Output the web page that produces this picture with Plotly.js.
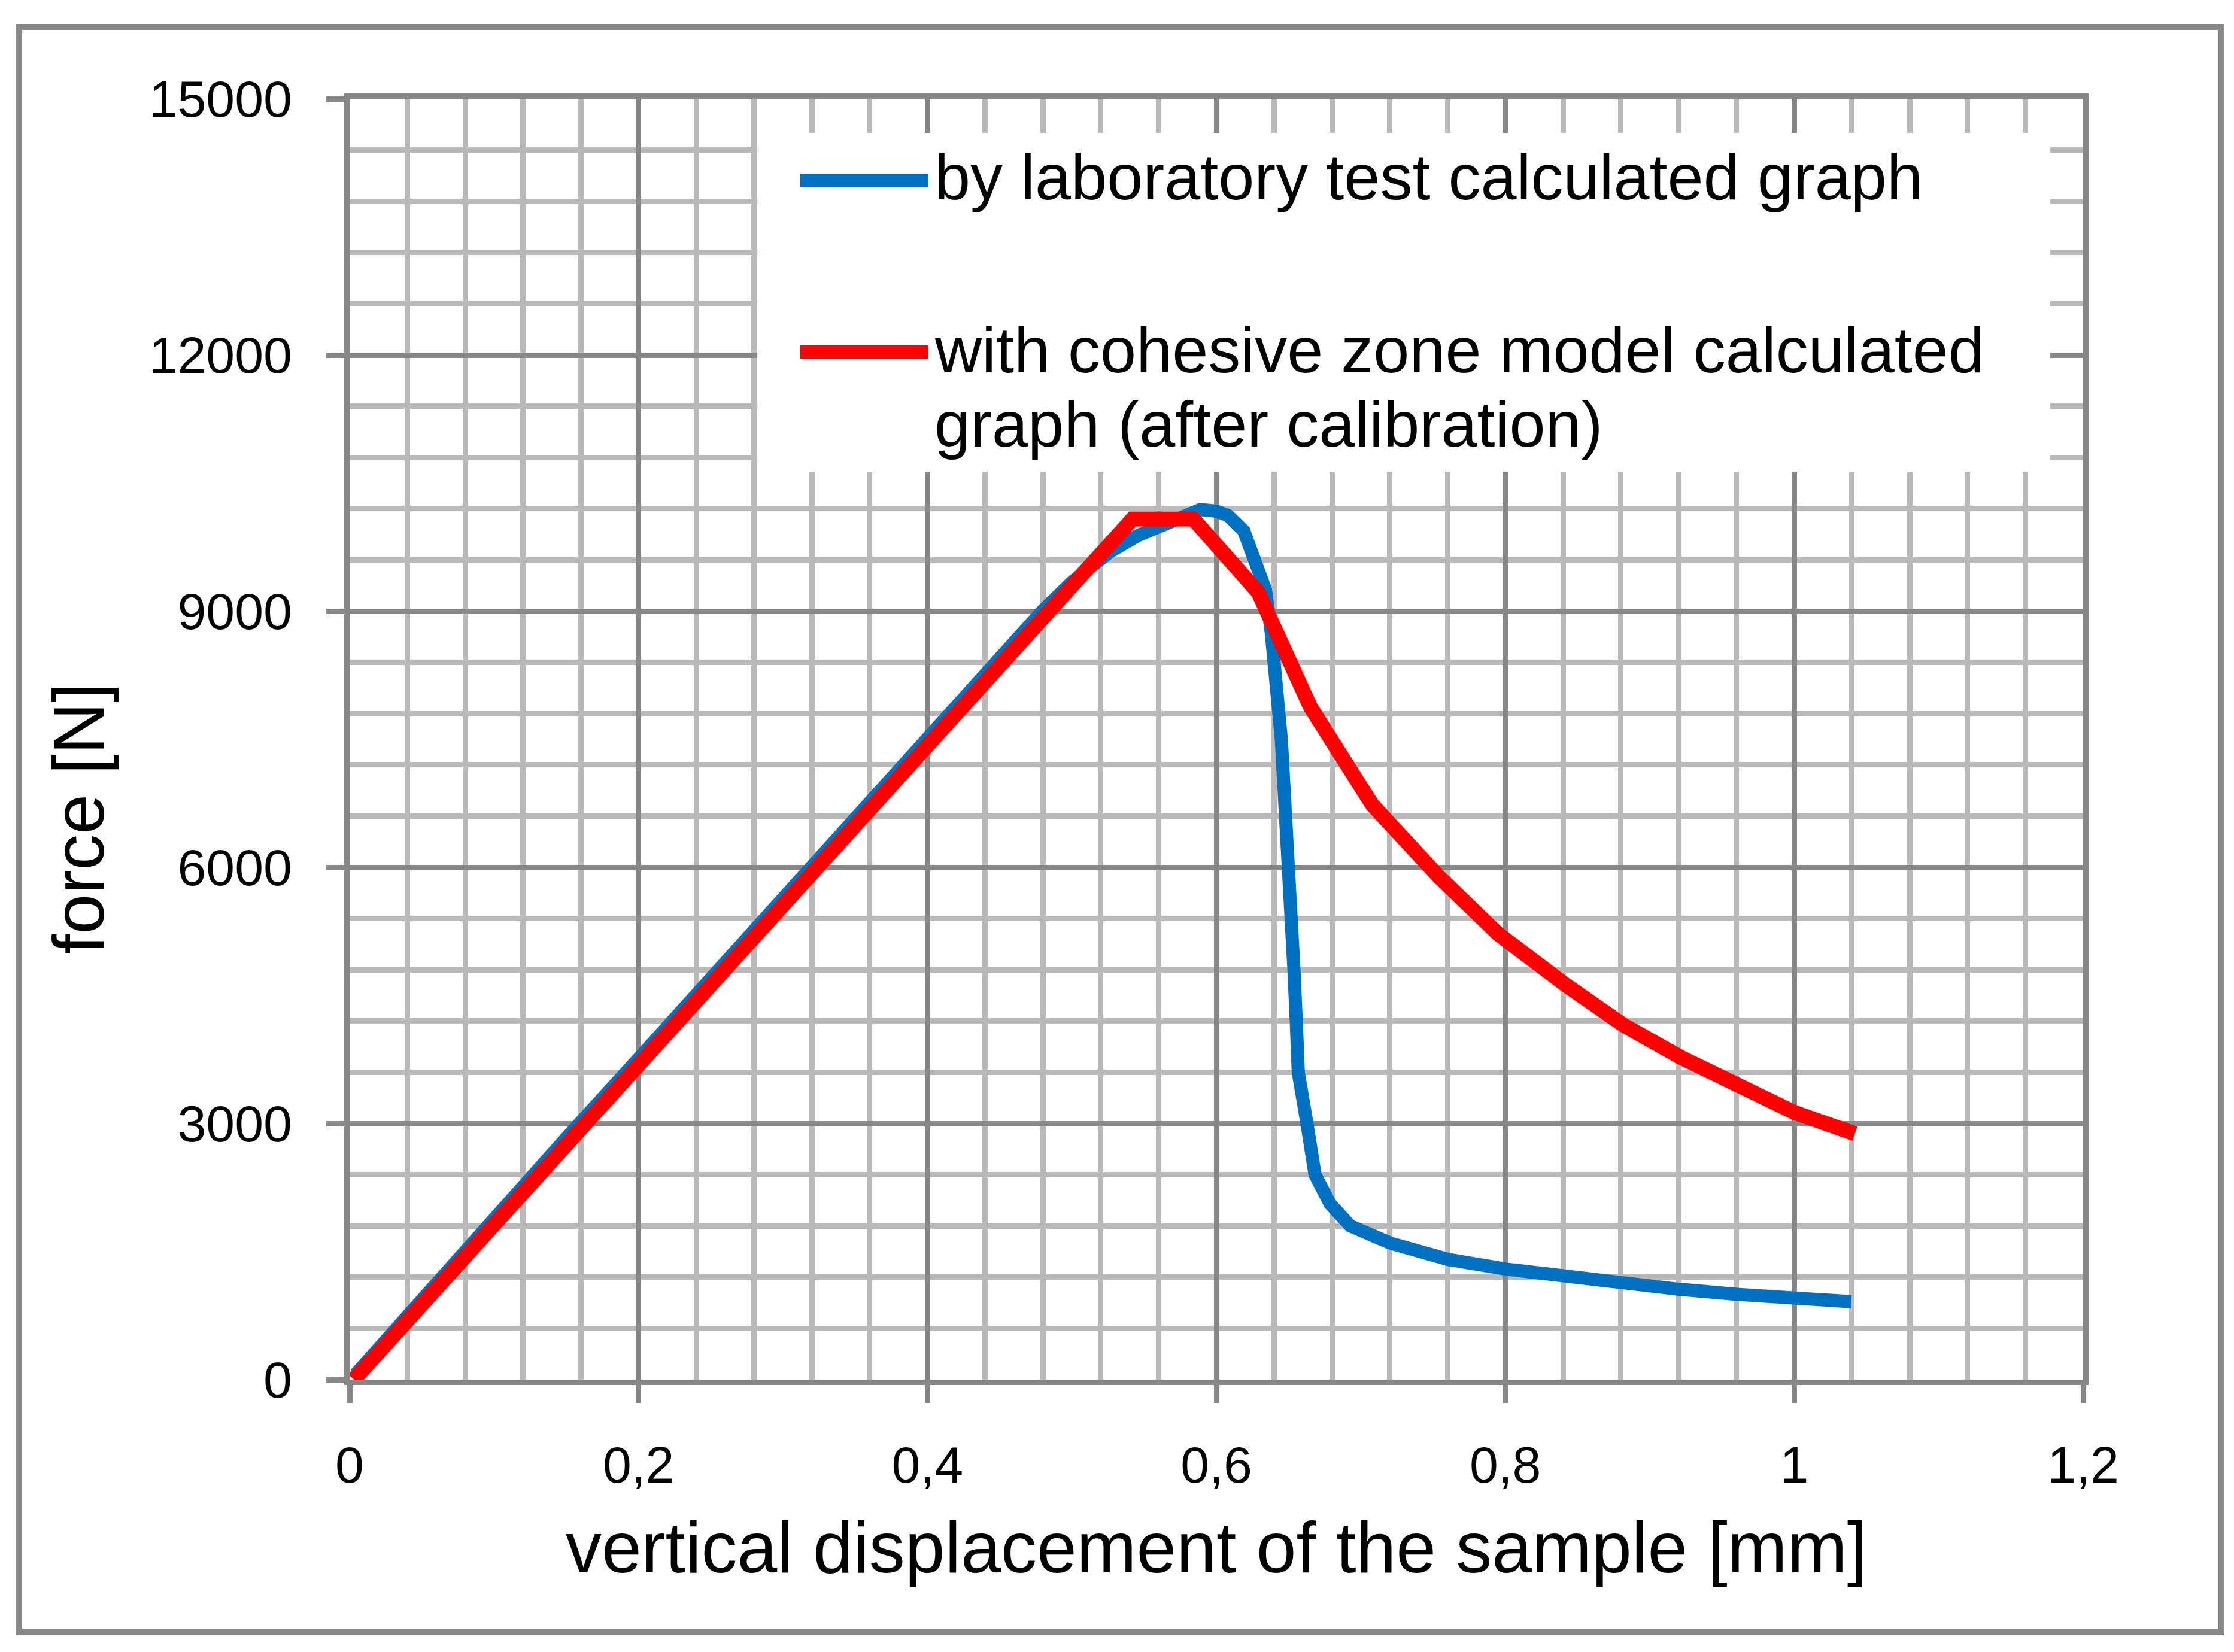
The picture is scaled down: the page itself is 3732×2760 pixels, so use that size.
<!DOCTYPE html>
<html>
<head>
<meta charset="utf-8">
<script src="https://cdn.plot.ly/plotly-3.0.1.min.js"></script>
<style>
  html, body { margin: 0; padding: 0; background: #fff; }
  #plot { width: 3732px; height: 2760px; }
</style>
</head>
<body>
<div id="plot"></div>
<script>
// laboratory test (measured) curve
const labDisp = [0.004, 0.05, 0.1, 0.15, 0.2, 0.25, 0.3, 0.35, 0.4, 0.44, 0.462, 0.48, 0.5, 0.526,
  0.545, 0.562, 0.575, 0.589, 0.6, 0.608, 0.619, 0.627, 0.634, 0.638, 0.641, 0.643, 0.645, 0.647,
  0.6506, 0.6516, 0.6537, 0.6553, 0.6567, 0.6627, 0.6683, 0.6787, 0.6927, 0.721, 0.7605, 0.8,
  0.8395, 0.8795, 0.9205, 0.9605, 1.0, 1.0395];
const labForce = [60, 950, 1890, 2830, 3760, 4700, 5640, 6580, 7520, 8270, 8680, 9010, 9340, 9690,
  9880, 9995, 10100, 10190, 10170, 10120, 9940, 9600, 9250, 8750, 8280, 7950, 7490, 6870,
  6000, 5400, 4800, 4200, 3600, 3000, 2400, 2060, 1800, 1595, 1408, 1296,
  1210, 1128, 1058, 999, 953, 913];

// cohesive zone model curve
const czmDisp = [0.003, 0.542, 0.584, 0.629, 0.665, 0.708, 0.754, 0.795, 0.842, 0.882, 0.922, 0.961, 1.0, 1.042];
const czmForce = [0, 10080, 10080, 9220, 7880, 6730, 5890, 5220, 4620, 4150, 3770, 3440, 3130, 2880];

const seriesNames = ["by laboratory test calculated graph", "with cohesive zone model calculated graph (after calibration)"];
const legendLines = ["by laboratory test calculated graph", "with cohesive zone model calculated", "graph (after calibration)"];

const xTickVals = [0, 0.2, 0.4, 0.6, 0.8, 1, 1.2];
const xTickText = ["0", "0,2", "0,4", "0,6", "0,8", "1", "1,2"];
const yTickVals = [0, 3000, 6000, 9000, 12000, 15000];
const yTickText = ["0", "3000", "6000", "9000", "12000", "15000"];

const BLUE = "#0070C0";
const RED = "#FF0000";
const MAJOR = "#878787";
const MINOR = "#b9b9b9";
const FONT = "Liberation Sans, Arial, sans-serif";

const traces = [
  {
    x: labDisp, y: labForce, name: seriesNames[0],
    type: "scatter", mode: "lines",
    line: { color: BLUE, width: 22 },
  },
  {
    x: czmDisp, y: czmForce, name: seriesNames[1],
    type: "scatter", mode: "lines",
    line: { color: RED, width: 25 },
  },
];

const axisCommon = {
  showline: true, mirror: true, linecolor: MAJOR, linewidth: 9,
  showgrid: true, gridcolor: MAJOR, gridwidth: 9,
  zeroline: false,
  ticks: "outside", ticklen: 30, tickwidth: 9, tickcolor: MAJOR,
  tickfont: { family: FONT, size: 86, color: "#000" },
  tickmode: "array",
};

const layout = {
  width: 3732, height: 2760,
  margin: { l: 584, r: 252, t: 165, b: 455 },
  paper_bgcolor: "#fff", plot_bgcolor: "#fff",
  showlegend: false,
  xaxis: {
    ...axisCommon,
    range: [0, 1.2],
    tickvals: xTickVals, ticktext: xTickText,
    ticklabelstandoff: 30,
    minor: { tickmode: "linear", tick0: 0, dtick: 0.04, showgrid: true, gridcolor: MINOR, gridwidth: 9, ticks: "" },
    title: {
      text: "vertical displacement of the sample [mm]",
      font: { family: FONT, size: 120, color: "#000" },
      standoff: 52,
    },
  },
  yaxis: {
    ...axisCommon,
    range: [0, 15000],
    tickvals: yTickVals, ticktext: yTickText,
    ticklabelstandoff: 40,
    minor: { tickmode: "linear", tick0: 0, dtick: 600, showgrid: true, gridcolor: MINOR, gridwidth: 9, ticks: "" },
  },
  shapes: [
    // outer frame
    { type: "rect", xref: "paper", yref: "paper", x0: -0.1906, x1: 1.0794, y0: -0.1972, y1: 1.0561,
      line: { color: MAJOR, width: 10 }, layer: "below" },
    // legend background
    { type: "rect", xref: "paper", yref: "paper", x0: 0.2352, x1: 0.981, y0: 0.7089, y1: 0.9734,
      fillcolor: "#ffffff", line: { width: 0 }, layer: "above" },
    // legend samples
    { type: "line", xref: "paper", yref: "paper", x0: 0.26, x1: 0.3339, y0: 0.9364, y1: 0.9364,
      line: { color: BLUE, width: 22 }, layer: "above" },
    { type: "line", xref: "paper", yref: "paper", x0: 0.26, x1: 0.3339, y0: 0.8023, y1: 0.8023,
      line: { color: RED, width: 22 }, layer: "above" },
  ],
  annotations: [
    { text: legendLines[0], xref: "paper", yref: "paper", x: 0.3367, y: 0.9388, xanchor: "left", yanchor: "middle",
      showarrow: false, font: { family: FONT, size: 108, color: "#000" } },
    { text: legendLines[1], xref: "paper", yref: "paper", x: 0.3367, y: 0.8042, xanchor: "left", yanchor: "middle",
      showarrow: false, font: { family: FONT, size: 108, color: "#000" } },
    { text: legendLines[2], xref: "paper", yref: "paper", x: 0.3367, y: 0.7458, xanchor: "left", yanchor: "middle",
      showarrow: false, font: { family: FONT, size: 108, color: "#000" } },
    { text: "force [N]", xref: "paper", yref: "paper", x: -0.1564, y: 0.438, xanchor: "center", yanchor: "middle",
      textangle: -90, showarrow: false, font: { family: FONT, size: 120, color: "#000" } },
  ],
};

Plotly.newPlot(document.getElementById("plot"), traces, layout, { displayModeBar: false, staticPlot: true });
</script>
</body>
</html>
